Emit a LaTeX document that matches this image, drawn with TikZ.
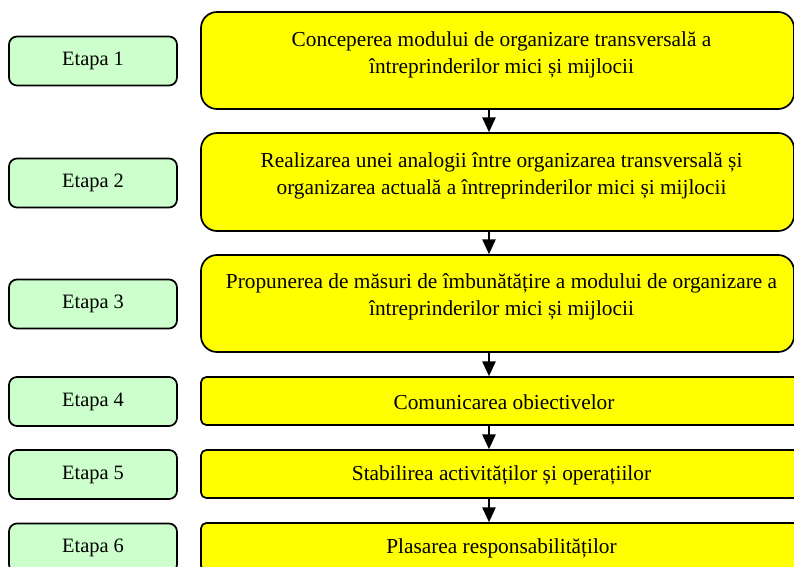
\documentclass[tikz,border=0pt]{standalone}
\usepackage{fontspec}
\setmainfont{Liberation Serif}
\usetikzlibrary{arrows.meta}
\definecolor{stagegreen}{HTML}{CCFFCC}
\definecolor{stepyellow}{HTML}{FFFF00}
\begin{document}
\begin{tikzpicture}[x=0.75pt,y=-0.75pt,
  txt/.style={font=\fontsize{16}{20.25}\selectfont},
  etapabox/.style={font=\fontsize{15.3}{18}\selectfont, draw=black, line width=1.3pt, fill=stagegreen, rounded corners=6pt,
    minimum width=126pt, minimum height=36.75pt, inner sep=0pt},
  bigbox/.style={draw=black, line width=1.3pt, fill=stepyellow, rounded corners=12pt,
    minimum width=444.75pt, inner sep=0pt},
  smallbox/.style={draw=black, line width=1.3pt, fill=stepyellow, rounded corners=4pt,
    minimum width=455.25pt, minimum height=36pt, inner sep=0pt},
  boxtext/.style={txt, align=center, inner sep=0pt, anchor=north},
  flowarrow/.style={line width=1pt, -{Triangle[length=11pt,width=10pt]}}
]
\useasboundingbox (0,0) rectangle (794,567);
\clip (0,0) rectangle (794,567);

% left stage boxes
\node[etapabox] (e1) at (93,61) {Etapa 1};
\node[etapabox] (e2) at (93,183) {Etapa 2};
\node[etapabox] (e3) at (93,304) {Etapa 3};
\node[etapabox] (e4) at (93,401.5) {Etapa 4};
\node[etapabox] (e5) at (93,474.5) {Etapa 5};
\node[etapabox] (e6) at (93,548) {Etapa 6};

% right step boxes
\node[bigbox, minimum height=72.75pt] (s1) at (497.5,60.5) {};
\node[bigbox, minimum height=73.5pt] (s2) at (497.5,182) {};
\node[bigbox, minimum height=72.75pt] (s3) at (497.5,303.5) {};
\node[smallbox] (s4) at (504.5,401) {};
\node[smallbox] (s5) at (504.5,474) {};
\node[smallbox] (s6) at (504.5,547) {};

\node[boxtext] (t1) at (501.5,31) {Conceperea modului de organizare transversală a\\întreprinderilor mici și mijlocii};
\node[boxtext] (t2) at (501.5,152) {Realizarea unei analogii între organizarea transversală și\\organizarea actuală a întreprinderilor mici și mijlocii};
\node[boxtext] (t3) at (501.5,273) {Propunerea de măsuri de îmbunătățire a modului de organizare a\\întreprinderilor mici și mijlocii};
\node[txt, inner sep=0pt] (t4) at (504,402) {Comunicarea obiectivelor};
\node[txt, inner sep=0pt] (t5) at (501.5,475) {Stabilirea activităților și operațiilor};
\node[txt, inner sep=0pt] (t6) at (501.5,548) {Plasarea responsabilităților};

% arrows
\coordinate (ax) at (489,0);
\draw[flowarrow] (s1.south -| ax) -- (s2.north -| ax);
\draw[flowarrow] (s2.south -| ax) -- (s3.north -| ax);
\draw[flowarrow] (s3.south -| ax) -- (s4.north -| ax);
\draw[flowarrow] (s4.south -| ax) -- (s5.north -| ax);
\draw[flowarrow] (s5.south -| ax) -- (s6.north -| ax);
\end{tikzpicture}
\end{document}
